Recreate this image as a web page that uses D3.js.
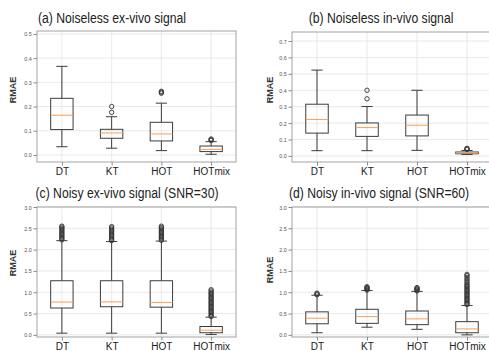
<!DOCTYPE html>
<html>
<head>
<meta charset="utf-8">
<script src="https://cdn.jsdelivr.net/npm/d3@7/dist/d3.min.js"></script>
<style>
    body { margin: 0; background: #fff; }
    svg { display: block; }
    text { font-family: "Liberation Sans", Arial, sans-serif; }
</style>
</head>
<body>
<div id="chart"></div>
<script>
// categories and titles
const categories = ['DT', 'KT', 'HOT', 'HOTmix'];
const titles = [
    '(a) Noiseless ex-vivo signal',
    '(b) Noiseless in-vivo signal',
    '(c) Noisy ex-vivo signal (SNR=30)',
    '(d) Noisy in-vivo signal (SNR=60)'
];
const yLabel = 'RMAE';

// y tick labels per panel
const ticksSmallA = [0.0, 0.1, 0.2, 0.3, 0.4, 0.5];
const ticksSmallB = [0.0, 0.1, 0.2, 0.3, 0.4, 0.5, 0.6, 0.7];
const ticksLarge = [0.0, 0.5, 1.0, 1.5, 2.0, 2.5, 3.0];

// (a) noiseless ex-vivo
const aLow = [0.034, 0.028, 0.018, 0.003];
const aQ1 = [0.105, 0.069, 0.058, 0.014];
const aMed = [0.164, 0.091, 0.087, 0.023];
const aQ3 = [0.234, 0.106, 0.135, 0.037];
const aHigh = [0.366, 0.158, 0.214, 0.055];
const aOut = [[], [0.176, 0.2], [0.255, 0.259, 0.263], [0.06, 0.063, 0.066]];

// (b) noiseless in-vivo
const bLow = [0.032, 0.032, 0.034, 0.009];
const bQ1 = [0.139, 0.119, 0.122, 0.013];
const bMed = [0.222, 0.173, 0.187, 0.018];
const bQ3 = [0.315, 0.201, 0.249, 0.024];
const bHigh = [0.523, 0.301, 0.400, 0.033];
const bOut = [[], [0.348, 0.40], [], [0.04, 0.043, 0.046]];

// (c) noisy ex-vivo, SNR=30
const cLow = [0.04, 0.04, 0.04, 0.01];
const cQ1 = [0.63, 0.66, 0.65, 0.05];
const cMed = [0.77, 0.775, 0.76, 0.11];
const cQ3 = [1.27, 1.27, 1.27, 0.196];
const cHigh = [2.21, 2.19, 2.20, 0.415];
const cOut = [
    [2.23, 2.26, 2.29, 2.32, 2.35, 2.38, 2.41, 2.44, 2.47, 2.5, 2.53, 2.55],
    [2.21, 2.24, 2.27, 2.3, 2.33, 2.36, 2.39, 2.42, 2.45, 2.48, 2.51, 2.54],
    [2.22, 2.25, 2.28, 2.31, 2.34, 2.37, 2.4, 2.43, 2.46, 2.49, 2.52, 2.55],
    [0.43, 0.46, 0.49, 0.52, 0.55, 0.58, 0.61, 0.64, 0.67, 0.7, 0.73, 0.76,
        0.79, 0.82, 0.85, 0.88, 0.91, 0.94, 0.97, 1.0, 1.03, 1.06]
];

// (d) noisy in-vivo, SNR=60
const dLow = [0.05, 0.18, 0.13, 0.0];
const dQ1 = [0.26, 0.27, 0.24, 0.05];
const dMed = [0.39, 0.43, 0.376, 0.14];
const dQ3 = [0.54, 0.60, 0.56, 0.31];
const dHigh = [0.93, 1.04, 1.02, 0.69];
const dOut = [
    [0.94, 0.96, 0.98],
    [1.05, 1.07, 1.09, 1.11, 1.13],
    [1.03, 1.05, 1.07, 1.09, 1.11],
    [0.71, 0.74, 0.77, 0.8, 0.83, 0.86, 0.89, 0.92, 0.95, 0.98, 1.01, 1.04,
        1.07, 1.1, 1.13, 1.16, 1.19, 1.23, 1.27, 1.31, 1.35, 1.39, 1.42]
];

// the source picture is a little squeezed sideways, so text is too
const SX = 0.87;

const panels = [
    { low: aLow, q1: aQ1, med: aMed, q3: aQ3, high: aHigh, out: aOut, ticks: ticksSmallA, ylim: [-0.029, 0.512],
        left: 37, right: 236, top: 31, bottom: 162, titleX: 112, titleY: 23, labX: 13, labY: 90 },
    { low: bLow, q1: bQ1, med: bMed, q3: bQ3, high: bHigh, out: bOut, ticks: ticksSmallB, ylim: [-0.037, 0.755],
        left: 292, right: 492, top: 32, bottom: 162, titleX: 381, titleY: 23, labX: 270, labY: 90 },
    { low: cLow, q1: cQ1, med: cMed, q3: cQ3, high: cHigh, out: cOut, ticks: ticksLarge, ylim: [-0.05, 3.0],
        left: 37, right: 236, top: 207, bottom: 337, titleX: 127, titleY: 198, labX: 13, labY: 263 },
    { low: dLow, q1: dQ1, med: dMed, q3: dQ3, high: dHigh, out: dOut, ticks: ticksLarge, ylim: [-0.05, 3.0],
        left: 292, right: 492, top: 207, bottom: 337, titleX: 379, titleY: 198, labX: 270, labY: 270 }
];

let svg = d3.select('#chart').append('svg')
    .attr('width', 489)
    .attr('height', 351);

panels.forEach(function (p, k) {
    let g = svg.append('g');

    let x = d3.scalePoint().domain(categories).range([p.left, p.right]).padding(0.5);
    let y = d3.scaleLinear().domain(p.ylim).range([p.bottom, p.top]);
    let boxW = 0.45 * x.step();
    let capW = boxW / 2;

    // grid
    g.selectAll('.hgrid').data(p.ticks).enter().append('line')
        .attr('x1', p.left).attr('x2', p.right)
        .attr('y1', function (d) { return y(d); })
        .attr('y2', function (d) { return y(d); })
        .attr('stroke', '#e3e3e3').attr('stroke-width', 0.8);
    g.selectAll('.vgrid').data(categories).enter().append('line')
        .attr('y1', p.top).attr('y2', p.bottom)
        .attr('x1', function (d) { return x(d); })
        .attr('x2', function (d) { return x(d); })
        .attr('stroke', '#e3e3e3').attr('stroke-width', 0.8);

    // axes
    let yAxis = d3.axisLeft(y).tickValues(p.ticks).tickFormat(d3.format('.1f')).tickSize(3.5).tickPadding(2.5);
    let ya = g.append('g').attr('transform', 'translate(' + p.left + ',0)').call(yAxis);
    ya.select('.domain').remove();
    ya.selectAll('line').attr('stroke', '#888');
    ya.selectAll('text').attr('font-size', 6.2).attr('fill', '#555')
        .attr('transform', 'scale(' + SX + ',1)');

    let xAxis = d3.axisBottom(x).tickSize(3.5).tickPadding(1.5);
    let xa = g.append('g').attr('transform', 'translate(0,' + p.bottom + ')').call(xAxis);
    xa.select('.domain').remove();
    xa.selectAll('line').attr('stroke', '#888');
    xa.selectAll('text').attr('font-size', 11.5).attr('fill', '#222')
        .attr('transform', 'scale(' + SX + ',1)');

    // frame
    g.append('rect')
        .attr('x', p.left).attr('y', p.top)
        .attr('width', p.right - p.left).attr('height', p.bottom - p.top)
        .attr('fill', 'none').attr('stroke', '#999').attr('stroke-width', 0.9);

    // boxes
    let items = categories.map(function (c, i) {
        return { cat: c, low: p.low[i], q1: p.q1[i], med: p.med[i], q3: p.q3[i], high: p.high[i], out: p.out[i] };
    });

    let box = g.selectAll('.box').data(items).enter().append('g').classed('box', true);
    let ink = '#3c3c3c';

    box.append('line')
        .attr('x1', function (d) { return x(d.cat); }).attr('x2', function (d) { return x(d.cat); })
        .attr('y1', function (d) { return y(d.q3); }).attr('y2', function (d) { return y(d.high); })
        .attr('stroke', ink);
    box.append('line')
        .attr('x1', function (d) { return x(d.cat); }).attr('x2', function (d) { return x(d.cat); })
        .attr('y1', function (d) { return y(d.q1); }).attr('y2', function (d) { return y(d.low); })
        .attr('stroke', ink);
    ['low', 'high'].forEach(function (key) {
        box.append('line')
            .attr('x1', function (d) { return x(d.cat) - capW / 2; })
            .attr('x2', function (d) { return x(d.cat) + capW / 2; })
            .attr('y1', function (d) { return y(d[key]); })
            .attr('y2', function (d) { return y(d[key]); })
            .attr('stroke', ink);
    });
    box.append('rect')
        .attr('x', function (d) { return x(d.cat) - boxW / 2; })
        .attr('width', boxW)
        .attr('y', function (d) { return y(d.q3); })
        .attr('height', function (d) { return y(d.q1) - y(d.q3); })
        .attr('fill', 'none').attr('stroke', ink);
    box.append('line')
        .attr('x1', function (d) { return x(d.cat) - boxW / 2; })
        .attr('x2', function (d) { return x(d.cat) + boxW / 2; })
        .attr('y1', function (d) { return y(d.med); })
        .attr('y2', function (d) { return y(d.med); })
        .attr('stroke', '#f8a660').attr('stroke-width', 1.1);

    box.selectAll('.flier').data(function (d) {
        return d.out.map(function (v) { return { cat: d.cat, v: v }; });
    }).enter().append('circle')
        .attr('cx', function (d) { return x(d.cat); })
        .attr('cy', function (d) { return y(d.v); })
        .attr('r', 2.2)
        .attr('fill', 'none').attr('stroke', '#333').attr('stroke-width', 0.9);

    // title and y label
    g.append('text')
        .attr('transform', 'translate(' + p.titleX + ',' + p.titleY + ') scale(' + SX + ',1)')
        .attr('text-anchor', 'middle')
        .attr('font-size', 14).attr('fill', '#222')
        .text(titles[k]);

    g.append('text')
        .attr('transform', 'translate(' + p.labX + ',' + p.labY + ') rotate(-90)')
        .attr('text-anchor', 'middle').attr('dy', '0.35em')
        .attr('font-size', 9).attr('font-weight', 'bold').attr('fill', '#333')
        .text(yLabel);
});
</script>
</body>
</html>
